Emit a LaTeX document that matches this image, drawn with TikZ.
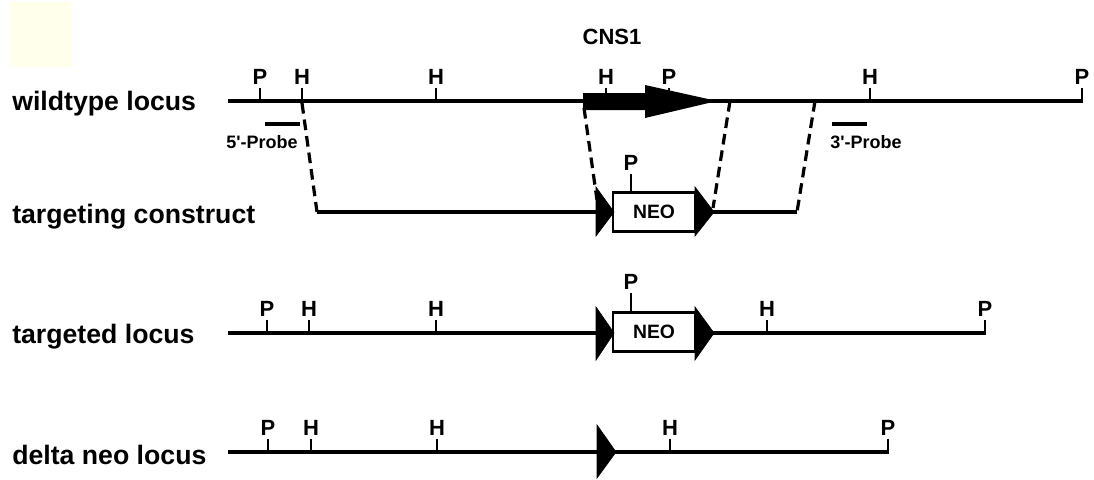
\documentclass[tikz,border=0pt]{standalone}
\usepackage{fontspec}
\setmainfont{Liberation Sans}
\begin{document}
\begin{tikzpicture}[x=0.75pt,y=-0.75pt,
  dna/.style={line width=2.4pt,line cap=butt},
  tickln/.style={line width=2.2pt},
  site/.style={font=\fontsize{16.5}{17}\selectfont\bfseries,inner sep=1.5pt,anchor=south},
  rowlab/.style={font=\fontsize{20}{21}\selectfont\bfseries,anchor=west,inner sep=0pt},
  probelab/.style={font=\fontsize{13.5}{14}\selectfont\bfseries,inner sep=0pt},
  probeln/.style={line width=2.4pt},
  dashln/.style={line width=2.4pt,dash pattern=on 8pt off 4.5pt},
  lox/.style={fill=black,draw=black,line width=0.5pt},
  neobox/.style={draw=black,fill=white,line width=2.2pt,minimum width=61.5pt,minimum height=29pt,inner sep=0pt,font=\fontsize{14.5}{15}\selectfont\bfseries}]
\useasboundingbox (0,0) rectangle (1094,479);
\fill[fill={rgb,255:red,255;green,255;blue,236}] (10,2) rectangle (72,67);

% ---------- wildtype locus ----------
\node[rowlab] (l1) at (12,104) {wildtype locus};
\coordinate (w0) at (228,101);
\coordinate (w1) at (1083,101);
\draw[dna] (w0) -- (w1);
\node[font=\fontsize{16.5}{17}\selectfont\bfseries] (cns) at (612,37) {CNS1};
\fill (583,93) -- (645,93) -- (645,85) -- (717,101) -- (645,118) -- (645,110) -- (583,110) -- cycle;
\foreach \x/\t/\n in {260/P/a,302/H/b,436/H/c,606/H/d,669/P/e,870/H/f,1082/P/g}{
  \draw[tickln] (\x,101) -- (\x,88) node[site] (w\n) {\t};
}
% probes
\coordinate (p5a) at (265,124); \coordinate (p5b) at (300,124);
\draw[probeln] (p5a) -- (p5b);
\node[probelab] (p5) at (262,142) {5\textquotesingle-Probe};
\coordinate (p3a) at (832,124); \coordinate (p3b) at (867,124);
\draw[probeln] (p3a) -- (p3b);
\node[probelab] (p3) at (866,142) {3\textquotesingle-Probe};

% ---------- targeting construct ----------
\node[rowlab] (l2) at (12,217) {targeting construct};
\coordinate (t0) at (317,212);
\coordinate (t1) at (597,212);
\coordinate (t2) at (713,212);
\coordinate (t3) at (797,212);
\draw[dna] (t0) -- (t1);
\draw[dna] (t2) -- (t3);
\node[neobox] (neo1) at (654,212) {NEO};
\fill[lox] (596,187) -- (614,212) -- (596,236) -- cycle;
\fill[lox] (695,187) -- (714,212) -- (695,236) -- cycle;
\draw[tickln] (631,192) -- (631,174) node[site] (tp) {P};
% dashed connectors
\coordinate (d1a) at (302,103); \coordinate (d1b) at (317,212);
\coordinate (d2a) at (584,108); \coordinate (d2b) at (597,200);
\coordinate (d3a) at (730,101); \coordinate (d3b) at (713,208);
\coordinate (d4a) at (815,101); \coordinate (d4b) at (797,212);
\draw[dashln] (d1a) -- (d1b);
\draw[dashln] (d2a) -- (d2b);
\draw[dashln] (d3a) -- (d3b);
\draw[dashln] (d4a) -- (d4b);

% ---------- targeted locus ----------
\node[rowlab] (l3) at (12,337) {targeted locus};
\coordinate (g0) at (228,333);
\coordinate (g1) at (597,333);
\coordinate (g2) at (713,333);
\coordinate (g3) at (986,333);
\draw[dna] (g0) -- (g1);
\draw[dna] (g2) -- (g3);
\node[neobox] (neo2) at (654,332) {NEO};
\fill[lox] (596,307) -- (614,333) -- (596,360) -- cycle;
\fill[lox] (695,307) -- (714,333) -- (695,360) -- cycle;
\draw[tickln] (631,312) -- (631,293) node[site] (gp) {P};
\foreach \x/\t/\n in {267/P/a,309/H/b,436/H/c,767/H/d,985/P/e}{
  \draw[tickln] (\x,333) -- (\x,320) node[site] (g\n) {\t};
}

% ---------- delta neo locus ----------
\node[rowlab] (l4) at (12,455) {delta neo locus};
\coordinate (n0) at (228,452);
\coordinate (n1) at (889,452);
\draw[dna] (n0) -- (n1);
\fill[lox] (597,425) -- (616,452) -- (597,478) -- cycle;
\foreach \x/\t/\n in {268/P/a,311/H/b,437/H/c,670/H/d,888/P/e}{
  \draw[tickln] (\x,452) -- (\x,439) node[site] (n\n) {\t};
}
\end{tikzpicture}
\end{document}
